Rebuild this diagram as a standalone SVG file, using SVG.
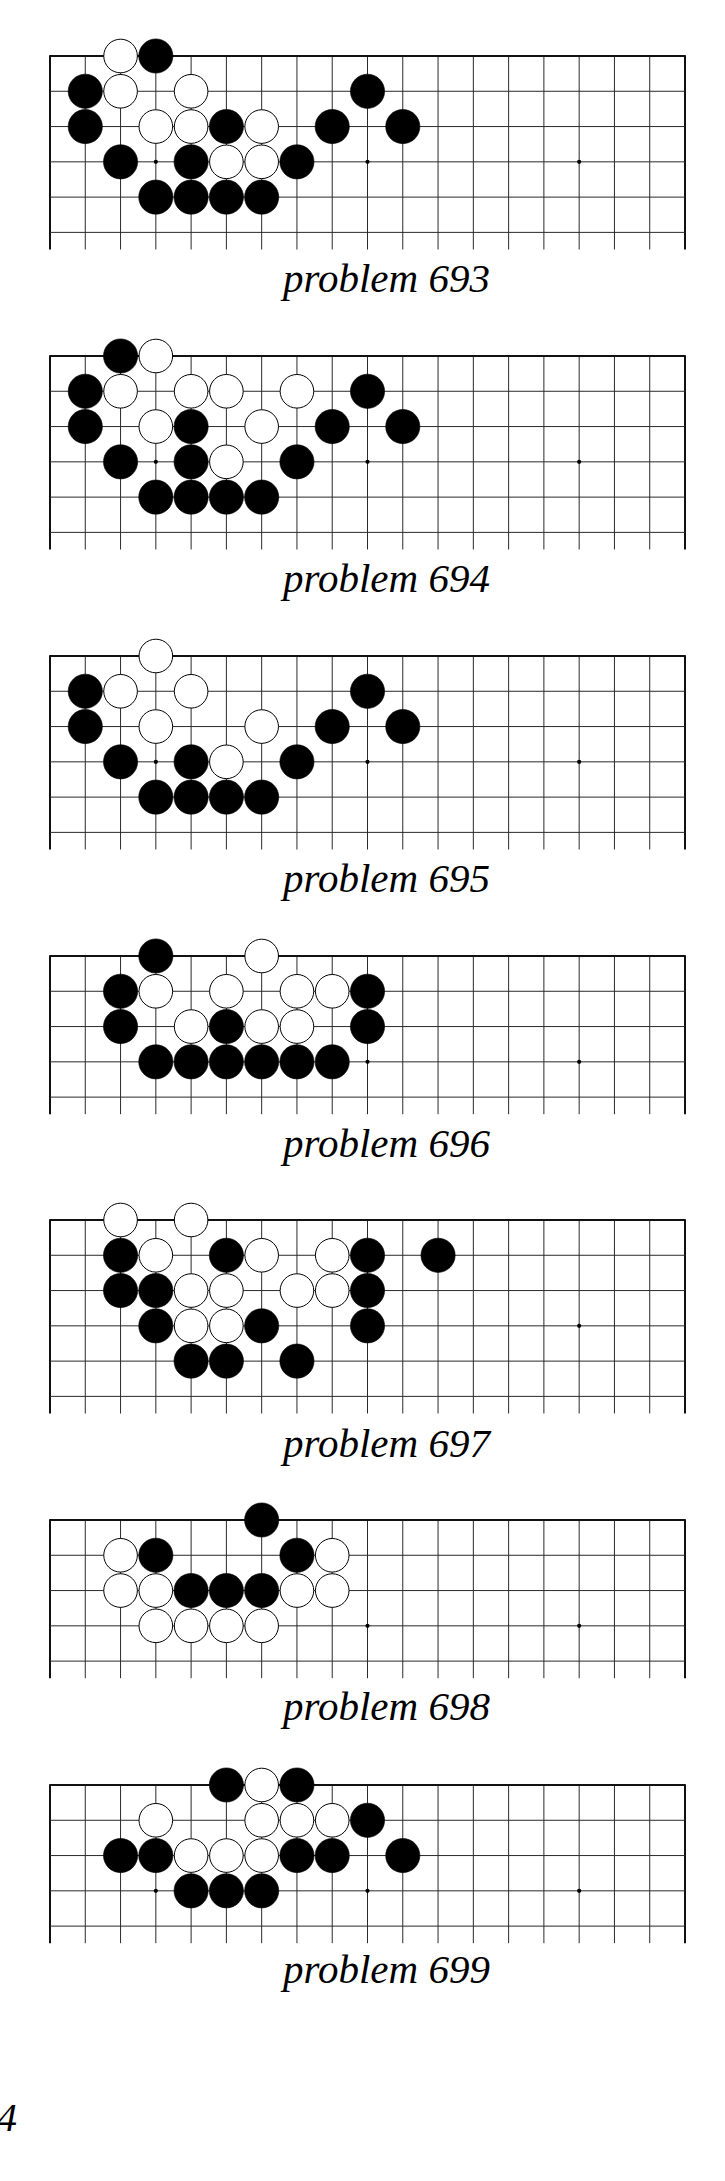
<svg xmlns="http://www.w3.org/2000/svg" xmlns:xlink="http://www.w3.org/1999/xlink" width="725" height="2181" viewBox="0 0 725 2181">
<style>
.ln{stroke:#2a2a2a;stroke-width:1;fill:none}
.edge{stroke:#111;stroke-width:2;fill:none}
.hoshi{fill:#000}
.B{fill:#000;stroke:#000;stroke-width:0.6}
.W{fill:#fff;stroke:#000;stroke-width:1}
.lbl{font-family:"Liberation Serif","Times New Roman",serif;font-style:italic;font-size:41px;fill:#000}
</style>
<defs>
<circle id="B" class="B" r="17.1"/>
<circle id="W" class="W" r="16.8"/>
<g id="cols6">
<path class="ln" d="M85.28,0V193.5M120.56,0V193.5M155.83,0V193.5M191.11,0V193.5M226.39,0V193.5M261.67,0V193.5M296.94,0V193.5M332.22,0V193.5M367.5,0V193.5M402.78,0V193.5M438.06,0V193.5M473.33,0V193.5M508.61,0V193.5M543.89,0V193.5M579.17,0V193.5M614.44,0V193.5M649.72,0V193.5"/>
<path class="edge" d="M50,0V193.5M685,0V193.5" stroke-width="1.6"/>
</g>
<g id="grid6">
<use xlink:href="#cols6"/>
<path class="ln" d="M50,35.28H685M50,70.56H685M50,105.83H685M50,141.11H685M50,176.39H685"/>
<path class="edge" d="M49.2,0H685.8"/>
<circle class="hoshi" cx="155.83" cy="105.83" r="2.1"/>
<circle class="hoshi" cx="367.5" cy="105.83" r="2.1"/>
<circle class="hoshi" cx="579.17" cy="105.83" r="2.1"/>
</g>
<g id="grid5">
<path class="ln" d="M85.28,0V158.2M120.56,0V158.2M155.83,0V158.2M191.11,0V158.2M226.39,0V158.2M261.67,0V158.2M296.94,0V158.2M332.22,0V158.2M367.5,0V158.2M402.78,0V158.2M438.06,0V158.2M473.33,0V158.2M508.61,0V158.2M543.89,0V158.2M579.17,0V158.2M614.44,0V158.2M649.72,0V158.2"/>
<path class="edge" d="M50,0V158.2M685,0V158.2" stroke-width="1.6"/>
<path class="ln" d="M50,35.28H685M50,70.56H685M50,105.83H685M50,141.11H685"/>
<path class="edge" d="M49.2,0H685.8"/>
<circle class="hoshi" cx="155.83" cy="105.83" r="2.1"/>
<circle class="hoshi" cx="367.5" cy="105.83" r="2.1"/>
<circle class="hoshi" cx="579.17" cy="105.83" r="2.1"/>
</g>
</defs>
<rect width="725" height="2181" fill="#fff"/>

<g id="problem693" transform="translate(0,56)">
<use xlink:href="#grid6"/>
<use xlink:href="#W" x="120.56" y="0"/><use xlink:href="#B" x="155.83" y="0"/>
<use xlink:href="#B" x="85.28" y="35.28"/><use xlink:href="#W" x="120.56" y="35.28"/><use xlink:href="#W" x="191.11" y="35.28"/><use xlink:href="#B" x="367.5" y="35.28"/>
<use xlink:href="#B" x="85.28" y="70.56"/><use xlink:href="#W" x="155.83" y="70.56"/><use xlink:href="#W" x="191.11" y="70.56"/><use xlink:href="#B" x="226.39" y="70.56"/><use xlink:href="#W" x="261.67" y="70.56"/><use xlink:href="#B" x="332.22" y="70.56"/><use xlink:href="#B" x="402.78" y="70.56"/>
<use xlink:href="#B" x="120.56" y="105.83"/><use xlink:href="#B" x="191.11" y="105.83"/><use xlink:href="#W" x="226.39" y="105.83"/><use xlink:href="#W" x="261.67" y="105.83"/><use xlink:href="#B" x="296.94" y="105.83"/>
<use xlink:href="#B" x="155.83" y="141.11"/><use xlink:href="#B" x="191.11" y="141.11"/><use xlink:href="#B" x="226.39" y="141.11"/><use xlink:href="#B" x="261.67" y="141.11"/>
<text class="lbl" x="283" y="236">problem 693</text>
</g>

<g id="problem694" transform="translate(0,356)">
<use xlink:href="#grid6"/>
<use xlink:href="#B" x="120.56" y="0"/><use xlink:href="#W" x="155.83" y="0"/>
<use xlink:href="#B" x="85.28" y="35.28"/><use xlink:href="#W" x="120.56" y="35.28"/><use xlink:href="#W" x="191.11" y="35.28"/><use xlink:href="#W" x="226.39" y="35.28"/><use xlink:href="#W" x="296.94" y="35.28"/><use xlink:href="#B" x="367.5" y="35.28"/>
<use xlink:href="#B" x="85.28" y="70.56"/><use xlink:href="#W" x="155.83" y="70.56"/><use xlink:href="#B" x="191.11" y="70.56"/><use xlink:href="#W" x="261.67" y="70.56"/><use xlink:href="#B" x="332.22" y="70.56"/><use xlink:href="#B" x="402.78" y="70.56"/>
<use xlink:href="#B" x="120.56" y="105.83"/><use xlink:href="#B" x="191.11" y="105.83"/><use xlink:href="#W" x="226.39" y="105.83"/><use xlink:href="#B" x="296.94" y="105.83"/>
<use xlink:href="#B" x="155.83" y="141.11"/><use xlink:href="#B" x="191.11" y="141.11"/><use xlink:href="#B" x="226.39" y="141.11"/><use xlink:href="#B" x="261.67" y="141.11"/>
<text class="lbl" x="283" y="236">problem 694</text>
</g>

<g id="problem695" transform="translate(0,656)">
<use xlink:href="#grid6"/>
<use xlink:href="#W" x="155.83" y="0"/>
<use xlink:href="#B" x="85.28" y="35.28"/><use xlink:href="#W" x="120.56" y="35.28"/><use xlink:href="#W" x="191.11" y="35.28"/><use xlink:href="#B" x="367.5" y="35.28"/>
<use xlink:href="#B" x="85.28" y="70.56"/><use xlink:href="#W" x="155.83" y="70.56"/><use xlink:href="#W" x="261.67" y="70.56"/><use xlink:href="#B" x="332.22" y="70.56"/><use xlink:href="#B" x="402.78" y="70.56"/>
<use xlink:href="#B" x="120.56" y="105.83"/><use xlink:href="#B" x="191.11" y="105.83"/><use xlink:href="#W" x="226.39" y="105.83"/><use xlink:href="#B" x="296.94" y="105.83"/>
<use xlink:href="#B" x="155.83" y="141.11"/><use xlink:href="#B" x="191.11" y="141.11"/><use xlink:href="#B" x="226.39" y="141.11"/><use xlink:href="#B" x="261.67" y="141.11"/>
<text class="lbl" x="283" y="236">problem 695</text>
</g>

<g id="problem696" transform="translate(0,956)">
<use xlink:href="#grid5"/>
<use xlink:href="#B" x="155.83" y="0"/><use xlink:href="#W" x="261.67" y="0"/>
<use xlink:href="#B" x="120.56" y="35.28"/><use xlink:href="#W" x="155.83" y="35.28"/><use xlink:href="#W" x="226.39" y="35.28"/><use xlink:href="#W" x="296.94" y="35.28"/><use xlink:href="#W" x="332.22" y="35.28"/><use xlink:href="#B" x="367.5" y="35.28"/>
<use xlink:href="#B" x="120.56" y="70.56"/><use xlink:href="#W" x="191.11" y="70.56"/><use xlink:href="#B" x="226.39" y="70.56"/><use xlink:href="#W" x="261.67" y="70.56"/><use xlink:href="#W" x="296.94" y="70.56"/><use xlink:href="#B" x="367.5" y="70.56"/>
<use xlink:href="#B" x="155.83" y="105.83"/><use xlink:href="#B" x="191.11" y="105.83"/><use xlink:href="#B" x="226.39" y="105.83"/><use xlink:href="#B" x="261.67" y="105.83"/><use xlink:href="#B" x="296.94" y="105.83"/><use xlink:href="#B" x="332.22" y="105.83"/>
<text class="lbl" x="283" y="200.7">problem 696</text>
</g>

<g id="problem697" transform="translate(0,1220)">
<use xlink:href="#grid6"/>
<use xlink:href="#W" x="120.56" y="0"/><use xlink:href="#W" x="191.11" y="0"/>
<use xlink:href="#B" x="120.56" y="35.28"/><use xlink:href="#W" x="155.83" y="35.28"/><use xlink:href="#B" x="226.39" y="35.28"/><use xlink:href="#W" x="261.67" y="35.28"/><use xlink:href="#W" x="332.22" y="35.28"/><use xlink:href="#B" x="367.5" y="35.28"/><use xlink:href="#B" x="438.06" y="35.28"/>
<use xlink:href="#B" x="120.56" y="70.56"/><use xlink:href="#B" x="155.83" y="70.56"/><use xlink:href="#W" x="191.11" y="70.56"/><use xlink:href="#W" x="226.39" y="70.56"/><use xlink:href="#W" x="296.94" y="70.56"/><use xlink:href="#W" x="332.22" y="70.56"/><use xlink:href="#B" x="367.5" y="70.56"/>
<use xlink:href="#B" x="155.83" y="105.83"/><use xlink:href="#W" x="191.11" y="105.83"/><use xlink:href="#W" x="226.39" y="105.83"/><use xlink:href="#B" x="261.67" y="105.83"/><use xlink:href="#B" x="367.5" y="105.83"/>
<use xlink:href="#B" x="191.11" y="141.11"/><use xlink:href="#B" x="226.39" y="141.11"/><use xlink:href="#B" x="296.94" y="141.11"/>
<text class="lbl" x="283" y="236.7">problem 697</text>
</g>

<g id="problem698" transform="translate(0,1520)">
<use xlink:href="#grid5"/>
<use xlink:href="#B" x="261.67" y="0"/>
<use xlink:href="#W" x="120.56" y="35.28"/><use xlink:href="#B" x="155.83" y="35.28"/><use xlink:href="#B" x="296.94" y="35.28"/><use xlink:href="#W" x="332.22" y="35.28"/>
<use xlink:href="#W" x="120.56" y="70.56"/><use xlink:href="#W" x="155.83" y="70.56"/><use xlink:href="#B" x="191.11" y="70.56"/><use xlink:href="#B" x="226.39" y="70.56"/><use xlink:href="#B" x="261.67" y="70.56"/><use xlink:href="#W" x="296.94" y="70.56"/><use xlink:href="#W" x="332.22" y="70.56"/>
<use xlink:href="#W" x="155.83" y="105.83"/><use xlink:href="#W" x="191.11" y="105.83"/><use xlink:href="#W" x="226.39" y="105.83"/><use xlink:href="#W" x="261.67" y="105.83"/>
<text class="lbl" x="283" y="200">problem 698</text>
</g>

<g id="problem699" transform="translate(0,1785)">
<use xlink:href="#grid5"/>
<use xlink:href="#B" x="226.39" y="0"/><use xlink:href="#W" x="261.67" y="0"/><use xlink:href="#B" x="296.94" y="0"/>
<use xlink:href="#W" x="155.83" y="35.28"/><use xlink:href="#W" x="261.67" y="35.28"/><use xlink:href="#W" x="296.94" y="35.28"/><use xlink:href="#W" x="332.22" y="35.28"/><use xlink:href="#B" x="367.5" y="35.28"/>
<use xlink:href="#B" x="120.56" y="70.56"/><use xlink:href="#B" x="155.83" y="70.56"/><use xlink:href="#W" x="191.11" y="70.56"/><use xlink:href="#W" x="226.39" y="70.56"/><use xlink:href="#W" x="261.67" y="70.56"/><use xlink:href="#B" x="296.94" y="70.56"/><use xlink:href="#B" x="332.22" y="70.56"/><use xlink:href="#B" x="402.78" y="70.56"/>
<use xlink:href="#B" x="191.11" y="105.83"/><use xlink:href="#B" x="226.39" y="105.83"/><use xlink:href="#B" x="261.67" y="105.83"/>
<text class="lbl" x="283" y="198">problem 699</text>
</g>

<text id="page-number" class="lbl" x="17" y="2131" text-anchor="end">4</text>
</svg>
